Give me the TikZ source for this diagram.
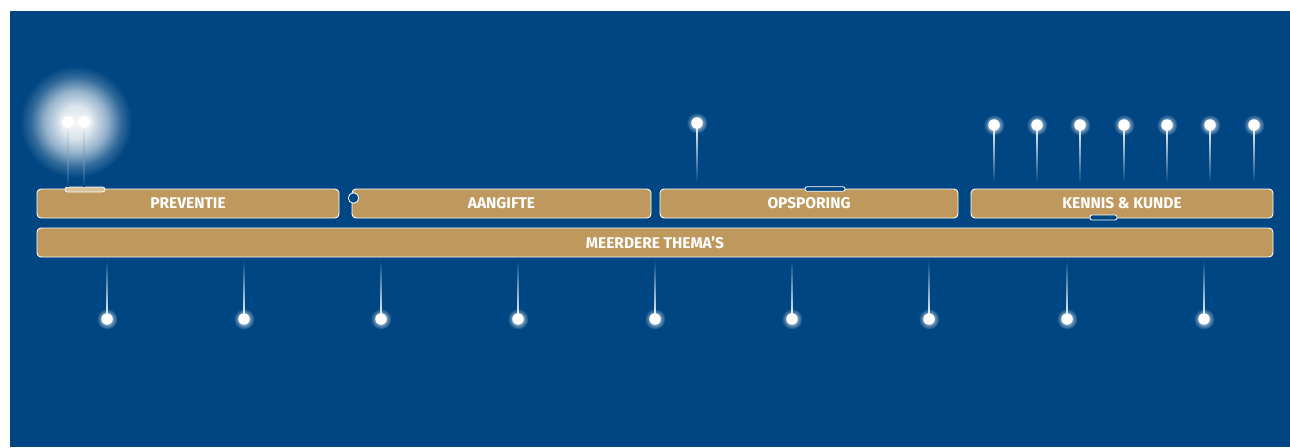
\documentclass[tikz,border=0pt]{standalone}
\usepackage{fontspec}
\setmainfont{Fira Sans}
\usetikzlibrary{calc,fadings}

\definecolor{navy}{HTML}{004682}
\definecolor{gold}{HTML}{BE985C}
\definecolor{tabtint}{HTML}{D9C39D}

% wide halo over the first two pins
\pgfdeclareradialshading{bigglow}{\pgfpoint{0bp}{0bp}}{%
  color(0bp)=(white!94!navy); color(7bp)=(white!87!navy); color(14bp)=(white!58!navy);
  color(20bp)=(white!20!navy); color(25bp)=(navy); color(50bp)=(navy)}
% soft halo around each pin head
\tikzfading[name=halo, inner color=transparent!0, outer color=transparent!100]

\tikzset{
  theme/.style={draw=white, line width=0.9pt, fill=gold, rounded corners=4pt,
    text=white, font=\bfseries\fontsize{15.5}{17}\selectfont,
    minimum height=29pt, inner sep=0pt},
  pinhead/.style={circle, fill=white, minimum size=11.5pt, inner sep=0pt},
  notch/.style={draw=white, line width=0.8pt, fill=navy, rounded corners=2pt},
}

\begin{document}
\begin{tikzpicture}[x=1pt, y=-1pt]
  \useasboundingbox (0,0) rectangle (1290,447);
  \fill[white] (0,0) rectangle (1290,447);
  \fill[navy] (10,11) rectangle (1290,447);

  % halo behind the two leftmost pins
  \shade[shading=bigglow] (76,122) circle (56);

  % theme bars
  \node[theme, minimum width=302pt] (prev) at (188,203.5) {PREVENTIE};
  \node[theme, minimum width=299pt] (aang) at (501.5,203.5) {AANGIFTE};
  \node[theme, minimum width=298pt] (ops)  at (809,203.5) {OPSPORING};
  \node[theme, minimum width=302pt] (ken)  at (1122,203.5) {KENNIS \& KUNDE};
  \node[theme, minimum width=1236pt] (meer) at (655,242.5) {MEERDERE THEMA’S};

  % small markers on the bar edges
  \node[draw=white, line width=0.8pt, fill=tabtint, rounded corners=2.5pt,
        minimum width=40pt, minimum height=5pt, inner sep=0pt] (ptab) at (85,189.5) {};
  \node[circle, draw=white, line width=0.8pt, fill=navy, minimum size=10.5pt,
        inner sep=0pt] (aknob) at (353.5,198) {};
  \node[notch, minimum width=40pt, minimum height=4.5pt, inner sep=0pt] (otab) at (825,189) {};
  \node[notch, minimum width=27pt, minimum height=5pt, inner sep=0pt] (ktab) at (1103.5,217.5) {};

  % pins above the bars
  \foreach \n/\x/\y/\e in {a/68/122/186, b/84/122/186, c/697/123/182,
      d/994/125/183, e/1037/125/183, f/1080/125/183, g/1124/125/183,
      h/1167/125/183, i/1210/125/183, j/1254/125/183}{
    \coordinate (top\n foot) at (\x,\e);
    \fill[white, path fading=halo] (\x,\y) circle (10.5);
    \shade[top color=white, bottom color=navy]
      ($(\x,\y)+(-0.8,0)$) rectangle ($(top\n foot)+(0.8,0)$);
    \node[pinhead] (top\n) at (\x,\y) {};
  }

  % pins below the bars
  \foreach \n/\x in {1/107, 2/244, 3/381, 4/518, 5/655, 6/792, 7/929, 8/1067, 9/1204}{
    \coordinate (bot\n foot) at (\x,260);
    \fill[white, path fading=halo] (\x,319) circle (10.5);
    \shade[top color=navy, bottom color=white]
      ($(bot\n foot)+(-0.8,0)$) rectangle ($(\x,319)+(0.8,0)$);
    \node[pinhead] (bot\n) at (\x,319) {};
  }
\end{tikzpicture}
\end{document}
